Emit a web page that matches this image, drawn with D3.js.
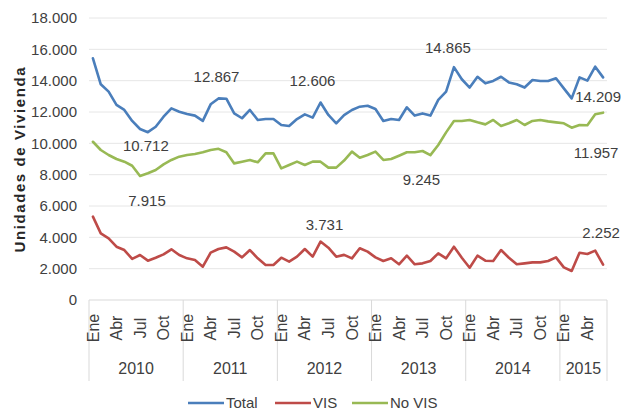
<!DOCTYPE html>
<html><head><meta charset="utf-8">
<script src="https://cdn.jsdelivr.net/npm/d3@7/dist/d3.min.js"></script>
<style>
body{margin:0;background:#fff;}
text{font-family:"Liberation Sans",Arial,sans-serif;fill:#404040;}
text.ytitle{fill:#262626;font-weight:bold;}
</style></head>
<body><svg id="c" width="621" height="415"></svg>
<script>
const years = ["2010","2011","2012","2013","2014","2015"];
const monthNames = ["Ene","Feb","Mar","Abr","May","Jun","Jul","Ago","Sep","Oct","Nov","Dic"];
const monthTicks = ["Ene","Abr","Jul","Oct"];
const yTicks = [0,2000,4000,6000,8000,10000,12000,14000,16000,18000];
const seriesNames = ["Total","VIS","No VIS"];
const seriesColors = ["#4a7ebb","#be4b48","#98b954"];

const total = [15430,13770,13300,12450,12130,11430,10915,10712,11060,11700,12230,12020,
  11870,11770,11430,12490,12867,12850,11910,11600,12130,11490,11550,11550,
  11170,11110,11550,11850,11640,12606,11810,11280,11800,12130,12340,12400,
  12190,11430,11550,11490,12300,11770,11910,11770,12770,13300,14865,14090,
  13560,14250,13830,13980,14250,13890,13770,13560,14040,13980,13980,14150,
  13510,12870,14210,14000,14890,14209];
const vis = [5320,4250,3940,3400,3190,2620,2870,2510,2700,2915,3235,2870,
  2660,2550,2130,3020,3255,3360,3085,2720,3190,2660,2230,2230,
  2700,2450,2765,3255,2765,3731,3340,2765,2880,2660,3300,3085,
  2720,2490,2660,2280,2830,2280,2340,2490,2980,2660,3400,2700,
  2060,2830,2510,2490,3190,2700,2280,2340,2400,2400,2490,2720,
  2085,1850,3020,2935,3150,2252];
const noVis = [10100,9575,9255,9000,8830,8570,7915,8090,8300,8660,8940,9150,
  9255,9320,9430,9575,9650,9430,8720,8830,8940,8790,9360,9360,
  8400,8620,8830,8620,8830,8830,8450,8450,8900,9470,9080,9255,
  9470,8940,9000,9210,9430,9430,9510,9245,9890,10700,11430,11430,
  11490,11340,11210,11490,11110,11280,11490,11170,11430,11490,11400,11340,
  11280,11000,11170,11150,11850,11957];

// annotated points: [series index, month index, dx, dy]
const annotations = [
  [0,7,-2,19],[0,16,-2,-16],[0,29,-8,-17],[0,46,-6,-14],[0,65,-5,25],
  [2,6,7,30],[2,43,-9,30],[2,65,-7,45],
  [1,29,4,-12],[1,65,-2,-27]
];

const data = [total, vis, noVis];
const months = [];
for (let i = 0; i < total.length; i++) {
  months.push(years[Math.floor(i/12)] + "-" + monthNames[i%12]);
}
const fmt = v => d3.format(",")(v).replace(/,/g, ".");

const svg = d3.select("#c");
const L = 89, R = 607, T = 18, B = 300;
const x = d3.scaleBand().domain(months).range([L, R]);
const y = d3.scaleLinear().domain([0, 18000]).range([B, T]);
const cx = m => x(m) + x.bandwidth()/2;

// gridlines
svg.append("g").selectAll("line").data(yTicks.filter(d=>d>0)).join("line")
  .attr("x1", L).attr("x2", R).attr("y1", d=>y(d)).attr("y2", d=>y(d))
  .attr("stroke", "#e6e6e6").attr("stroke-width", 1);

// y axis labels
const yAxis = d3.axisLeft(y).tickValues(yTicks).tickFormat(fmt).tickSize(0).tickPadding(12);
const yg = svg.append("g").attr("transform", `translate(${L},0)`).call(yAxis);
yg.select(".domain").remove();
yg.selectAll("text").attr("font-size", 15).attr("fill", "#404040");
yg.attr("font-family", null);

// x axis baseline
svg.append("line").attr("x1", L).attr("x2", R).attr("y1", B).attr("y2", B)
  .attr("stroke", "#d9d9d9").attr("stroke-width", 1);

// year separators
const yearStarts = years.map(yr => yr + "-Ene");
svg.append("g").selectAll("line").data(yearStarts).join("line")
  .attr("x1", d=>x(d)).attr("x2", d=>x(d)).attr("y1", B).attr("y2", 381)
  .attr("stroke", "#d9d9d9");
svg.append("line").attr("x1", R).attr("x2", R).attr("y1", B).attr("y2", 381).attr("stroke", "#d9d9d9");

// month labels
const mt = months.filter(m => monthTicks.includes(m.split("-")[1]));
svg.append("g").selectAll("text").data(mt).join("text")
  .attr("transform", d => `translate(${cx(d)},328) rotate(-90)`)
  .attr("text-anchor", "middle").attr("dy", "0.35em")
  .attr("font-size", 16).text(d => d.split("-")[1]);

// year labels
svg.append("g").selectAll("text").data(years).join("text")
  .attr("x", yr => {
    const ms = months.filter(m => m.startsWith(yr));
    return (x(ms[0]) + x(ms[ms.length-1]) + x.bandwidth())/2;
  })
  .attr("y", 368).attr("dy", "0.35em").attr("text-anchor", "middle")
  .attr("font-size", 16).text(d => d);

// lines
const line = d3.line().x((d,i)=>cx(months[i])).y(d=>y(d)).curve(d3.curveLinear);
data.forEach((s, k) => {
  svg.append("path").datum(s).attr("d", line).attr("fill", "none")
    .attr("stroke", seriesColors[k]).attr("stroke-width", 2.6)
    .attr("stroke-linejoin", "round").attr("stroke-linecap", "round");
});

// annotations
svg.append("g").selectAll("text").data(annotations).join("text")
  .attr("x", a => cx(months[a[1]]) + a[2])
  .attr("y", a => y(data[a[0]][a[1]]) + a[3])
  .attr("text-anchor", "middle").attr("font-size", 15)
  .text(a => fmt(data[a[0]][a[1]]));

// y title
svg.append("text").attr("class", "ytitle")
  .attr("transform", "translate(20,160) rotate(-90)")
  .attr("text-anchor", "middle").attr("dy", "0.35em")
  .attr("font-size", 15)
  .attr("textLength", 185).attr("lengthAdjust", "spacing")
  .text("Unidades de Vivienda");

// legend
const legX = [188, 275, 352];
const lg = svg.append("g").selectAll("g").data(seriesNames).join("g")
  .attr("transform", (d,i)=>`translate(${legX[i]},403)`);
lg.append("line").attr("x1", 0).attr("x2", 36).attr("stroke", (d,i)=>seriesColors[i]).attr("stroke-width", 2.6);
lg.append("text").attr("x", 38).attr("dy", "0.35em").attr("font-size", 15).text(d=>d);
</script></body></html>
